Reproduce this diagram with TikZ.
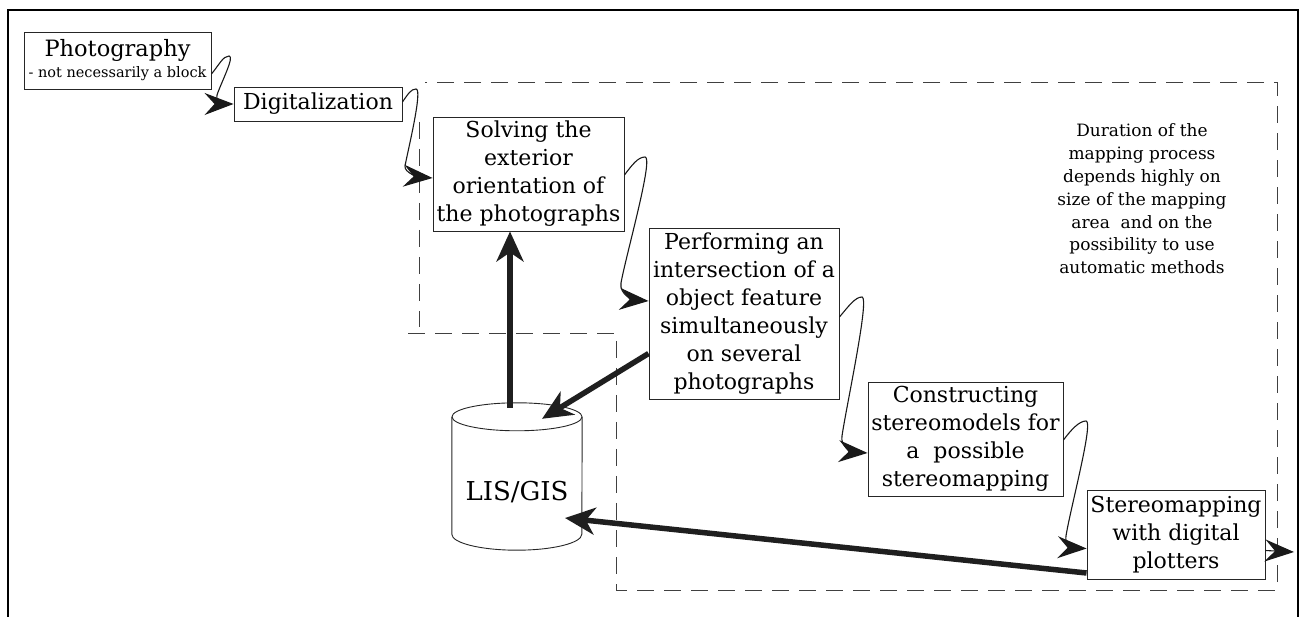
\documentclass[tikz,border=0pt]{standalone}
\usepackage{fontspec}
\setmainfont{DejaVu Serif}
\usetikzlibrary{arrows.meta,calc}
\begin{document}
\begin{tikzpicture}[x=1pt,y=-1pt,
  box/.style={draw=black!85, line width=0.9pt, align=center, inner sep=0pt,
    font=\fontsize{22}{28}\selectfont},
  curl/.style={line width=1.1pt, black!90,
    -{Stealth[length=29pt,width=22pt,inset=10pt]}},
  fat/.style={line width=5.5pt, black!88,
    -{Stealth[length=30pt,width=27pt,inset=9pt]}},
  dashbox/.style={draw=black!75, line width=0.8pt, dash pattern=on 17pt off 10pt},
  frame/.style={draw=black, line width=1.4pt}]
\useasboundingbox (0,0) rectangle (1302,617);

% outer frame (open at the bottom)
\draw[frame] (8,617) -- (8,10) -- (1298,10) -- (1298,617);

% dashed region
\draw[dashbox] (408,333) -- (616,333) -- (616,590) -- (1277,590) -- (1277,82) -- (425,82);
\draw[dashbox] (419,122) -- (419,327);

% boxes
\node[box, minimum width=187, minimum height=57, font=\fontsize{22.5}{21}\selectfont]
  (photo) at (117.5,60.5) {Photography\\{\fontsize{14.5}{16}\selectfont - not necessarily a block}};
\node[box, minimum width=168, minimum height=34] (digi) at (318,104) {Digitalization};
\node[box, minimum width=191, minimum height=114] (solve) at (528.5,174)
  {Solving the\\exterior\\orientation of\\the photographs};
\node[box, minimum width=190, minimum height=171] (perf) at (744,313.5)
  {Performing an\\intersection of a\\object feature\\simultaneously\\on several\\photographs};
\node[box, minimum width=195, minimum height=114] (cons) at (965.5,439)
  {Constructing\\stereomodels for\\a\ \ possible\\stereomapping};
\node[box, minimum width=178, minimum height=89] (stereo) at (1176,534.5)
  {Stereomapping\\with digital\\plotters};

% note
\node[align=center, font=\fontsize{17}{22.8}\selectfont] (note) at (1142,199)
  {Duration of the\\mapping process\\depends highly on\\size of the mapping\\area\ \ and on the\\possibility to use\\automatic methods};

% database cylinder
\node[minimum width=130, minimum height=147, inner sep=0pt] (lis) at (517,476.5) {};
\node[font=\fontsize{26}{30}\selectfont] (listext) at (517,492) {LIS/GIS};
\draw[black!85, line width=0.9pt] ($(lis.north)+(0,14)$) ellipse [x radius=65, y radius=14];
\draw[black!85, line width=0.9pt] ($(lis.north west)+(0,14)$) -- ($(lis.south west)+(0,-16)$)
  arc[start angle=180, end angle=0, x radius=65, y radius=16]
  -- ($(lis.north east)+(0,14)$);

% curly step connectors
\draw[curl] ($(photo.east)+(0,13.5)$) .. controls (219,65) and (223,56) .. (229,56)
  .. controls (235,56) and (221,83) .. (217,95)
  .. controls (215,101) and (222,104) .. (digi.west);
\draw[curl] ($(digi.east)+(0,-2)$) .. controls (408,94) and (411,89) .. (416,89)
  .. controls (423,89) and (408,150) .. (405,166)
  .. controls (404,173) and (420,177) .. ($(solve.west)+(0,4)$);
\draw[curl] ($(solve.east)+(0,1)$) .. controls (632,165) and (638,157) .. (645,157)
  .. controls (654,157) and (626,255) .. (621,283)
  .. controls (619,295) and (635,300) .. ($(perf.west)+(0,-12.5)$);
\draw[curl] ($(perf.east)+(0,3.5)$) .. controls (848,307) and (855,297) .. (862,297)
  .. controls (870,297) and (846,408) .. (842,436)
  .. controls (840,446) and (852,452) .. ($(cons.west)+(0,14)$);
\draw[curl] ($(cons.east)+(0,1)$) .. controls (1071,430) and (1079,421) .. (1086,421)
  .. controls (1094,421) and (1070,510) .. (1066,536)
  .. controls (1064,545) and (1075,548) .. ($(stereo.west)+(0,14)$);
\coordinate (out) at (1294,552);
\draw[curl] ($(stereo.east)+(0,16)$) -- (out);

% thick data arrows
\draw[fat] ($(lis.north)+(-7,5)$) -- ($(solve.south)+(-18.5,0)$);
\draw[fat] ($(perf.west)+(0,40)$) -- ($(lis.north)+(25,16)$);
\draw[fat] ($(stereo.west)+(0,38.5)$) -- ($(lis.center)+(48,41.5)$);
\end{tikzpicture}
\end{document}
